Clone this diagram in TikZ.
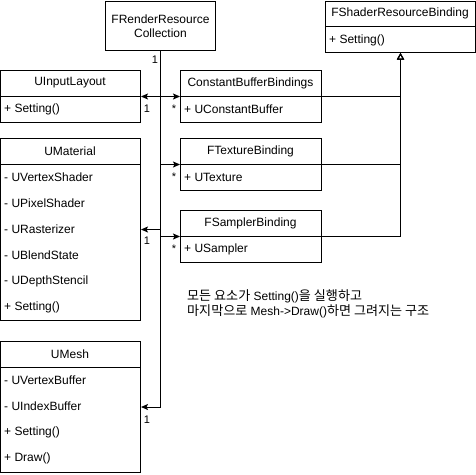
\documentclass[tikz,border=0pt]{standalone}
\usepackage{fontspec}
\setmainfont{Liberation Sans}
\newfontfamily\kr[Scale=1.09]{Noto Sans CJK KR}
\usetikzlibrary{arrows.meta}
\begin{document}
\begin{tikzpicture}[x=1pt,y=-1pt,
  every node/.style={font=\fontsize{12}{14}\selectfont, inner sep=0pt},
  cls/.style={draw, line width=1pt, anchor=north west, minimum width=#1},
  attr/.style={anchor=west},
  lab/.style={font=\fontsize{11}{13}\selectfont},
  assoc/.style={line width=1pt, -{Stealth[length=7pt,width=6pt,inset=1.5pt]}},
  inh/.style={line width=1pt, -{Triangle[open,length=6.5pt,width=7pt]}}]
\useasboundingbox (0,0) rectangle (476,474);

% FRenderResourceCollection
\node[cls=110pt, minimum height=49pt] (coll) at (105,1) {};
\node[align=center] (colltxt) at (coll.center) {FRenderResource\\Collection};

% FShaderResourceBinding
\node[cls=150pt, minimum height=51pt] (srb) at (325,1) {};
\draw[line width=1pt] (325,26) -- (475,26);
\node (srbt) at (400,13.5) {FShaderResourceBinding};
\node[attr] (srba) at (329,40) {+ Setting()};

% UInputLayout
\node[cls=140pt, minimum height=52pt] (uil) at (0,70) {};
\draw[line width=1pt] (0,96) -- (140,96);
\node (uilt) at (70,83) {UInputLayout};
\node[attr] (uila) at (4,109) {+ Setting()};

% UMaterial
\node[cls=140pt, minimum height=182pt] (umat) at (0,138) {};
\draw[line width=1pt] (0,164) -- (140,164);
\node (umatt) at (70,151) {UMaterial};
\node[attr] (um1) at (4,177) {- UVertexShader};
\node[attr] (um2) at (4,203) {- UPixelShader};
\node[attr] (um3) at (4,229) {- URasterizer};
\node[attr] (um4) at (4,255) {- UBlendState};
\node[attr] (um5) at (4,281) {- UDepthStencil};
\node[attr] (um6) at (4,307) {+ Setting()};

% UMesh
\node[cls=140pt, minimum height=131pt] (umesh) at (0,341) {};
\draw[line width=1pt] (0,367) -- (140,367);
\node (umesht) at (70,354) {UMesh};
\node[attr] (ume1) at (4,380) {- UVertexBuffer};
\node[attr] (ume2) at (4,406) {- UIndexBuffer};
\node[attr] (ume3) at (4,432) {+ Setting()};
\node[attr] (ume4) at (4,458) {+ Draw()};

% ConstantBufferBindings
\node[cls=141pt, minimum height=52pt] (cbb) at (180,70) {};
\draw[line width=1pt] (180,96) -- (321,96);
\node (cbbt) at (250.5,83) {ConstantBufferBindings};
\node[attr] (cbba) at (184,109) {+ UConstantBuffer};

% FTextureBinding
\node[cls=141pt, minimum height=52pt] (ftb) at (180,138) {};
\draw[line width=1pt] (180,164) -- (321,164);
\node (ftbt) at (250.5,151) {FTextureBinding};
\node[attr] (ftba) at (184,177) {+ UTexture};

% FSamplerBinding
\node[cls=141pt, minimum height=52pt] (fsb) at (180,210) {};
\draw[line width=1pt] (180,236) -- (321,236);
\node (fsbt) at (250.5,223) {FSamplerBinding};
\node[attr] (fsba) at (184,249) {+ USampler};

% associations
\draw[assoc] (coll.south) |- (uil.east);
\draw[assoc] (coll.south) |- (cbb.west);
\draw[assoc] (coll.south) |- (ftb.west);
\draw[assoc] (coll.south) |- (umat.east);
\draw[assoc] (coll.south) |- (fsb.west);
\draw[assoc] (coll.south) |- (umesh.east);

% multiplicities
\node[lab] (m0) at (155,60) {1};
\node[lab] (m1) at (147,109) {1};
\node[lab] (m2) at (174,109) {*};
\node[lab] (m3) at (174,177) {*};
\node[lab] (m4) at (147,241) {1};
\node[lab] (m5) at (174,249) {*};
\node[lab] (m6) at (147,420) {1};

% inheritance
\draw[inh] (cbb.east) -| (srb.south);
\draw[inh] (ftb.east) -| (srb.south);
\draw[inh] (fsb.east) -| (srb.south);

% note
\node[anchor=west, align=left, font=\fontsize{12}{15}\selectfont] (note) at (187,303.5)
  {{\kr 모든 요소가} Setting(){\kr 을 실행하고}\\{\kr 마지막으로} Mesh->Draw(){\kr 하면 그려지는 구조}};
\end{tikzpicture}
\end{document}
